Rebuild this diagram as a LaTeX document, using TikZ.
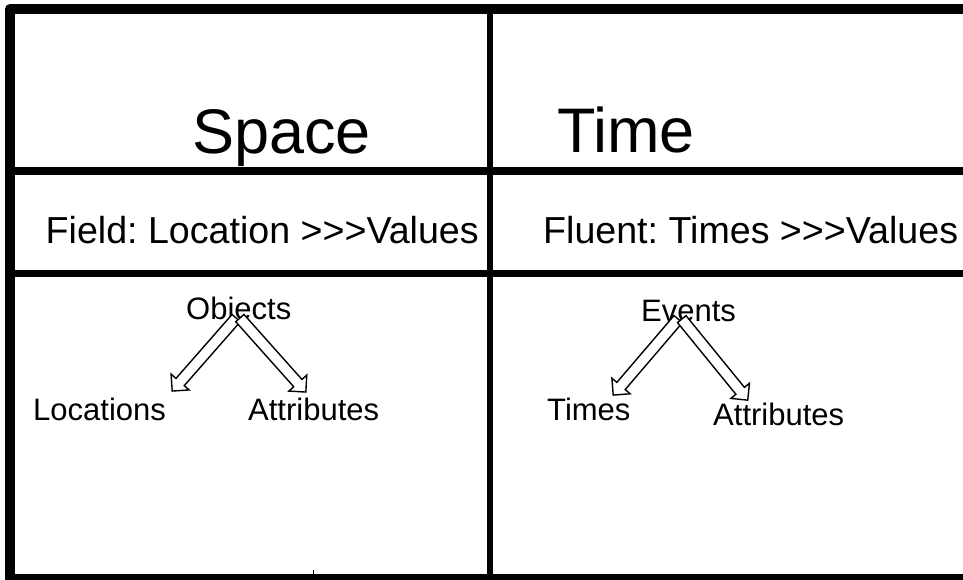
\documentclass[tikz,border=0pt]{standalone}
\usepackage{fontspec}
\setmainfont{Liberation Sans}
\frenchspacing
\usetikzlibrary{calc,shapes.arrows}

\tikzset{
  rule/.style={line width=#1},
  head/.style={inner sep=0pt, anchor=base west, font=\fontsize{63}{70}\selectfont},
  row/.style={inner sep=0pt, anchor=base west, font=\fontsize{37.6}{42}\selectfont},
  item/.style={inner sep=0pt, anchor=base west, font=\fontsize{31}{36}\selectfont},
  blockarrow/.style={single arrow, draw, fill=white, line width=1.4pt,
    inner xsep=0pt, inner ysep=4.8pt, minimum width=0pt,
    single arrow head extend=6.5pt, single arrow head indent=0pt}
}
% hollow arrow from #1 to #2
\newcommand\hollowarrow[2]{%
  \path let \p1=($(#2)-(#1)$), \n1={atan2(\y1,\x1)}, \n2={veclen(\x1,\y1)} in
    node[blockarrow, rotate=\n1, minimum height=\n2] at ($(#1)!0.5!(#2)$) {};
}
\newcommand\gtgtgt{>\kern0pt>\kern0pt>}

\begin{document}
\begin{tikzpicture}[x=1pt,y=-1pt]
    \useasboundingbox (0,0) rectangle (963,579);
    % frame and cell rules
    \draw[rule=10pt, line join=round] (975,9) -- (10,9) -- (10,579) -- (975,579);
    \draw[rule=6pt] (490,9) -- (490,579);
    \draw[rule=8pt] (10,171) -- (975,171);
    \draw[rule=7pt] (10,273) -- (975,273);
    \draw[rule=1pt] (313,570) -- (313,575);
    % headings
    \node[head] (spc) at (192,153) {Space};
    \node[head] (tim) at (557,152) {Time};
    \node[row] (fld) at (45.5,243) {Field: Location \gtgtgt Values};
    \node[row] (flu) at (543,243) {Fluent: Times \gtgtgt Values};
    % space cell
    \node[item] (obj) at (186,319) {Objects};
    \node[item] (loc) at (33,420) {Locations};
    \node[item] (atl) at (248,420) {Attributes};
    \coordinate (objfork) at (238,316);
    \coordinate (loctip) at (174,389);
    \coordinate (atltip) at (304,390);
    \hollowarrow{objfork}{loctip}
    \hollowarrow{objfork}{atltip}
    % time cell
    \node[item] (evt) at (641,321) {Events};
    \node[item] (tms) at (547,420) {Times};
    \node[item] (atr) at (713,425) {Attributes};
    \coordinate (evtfork) at (680,317);
    \coordinate (tmstip) at (615,393);
    \coordinate (atrtip) at (746,398);
    \hollowarrow{evtfork}{tmstip}
    \hollowarrow{evtfork}{atrtip}
\end{tikzpicture}
\end{document}
